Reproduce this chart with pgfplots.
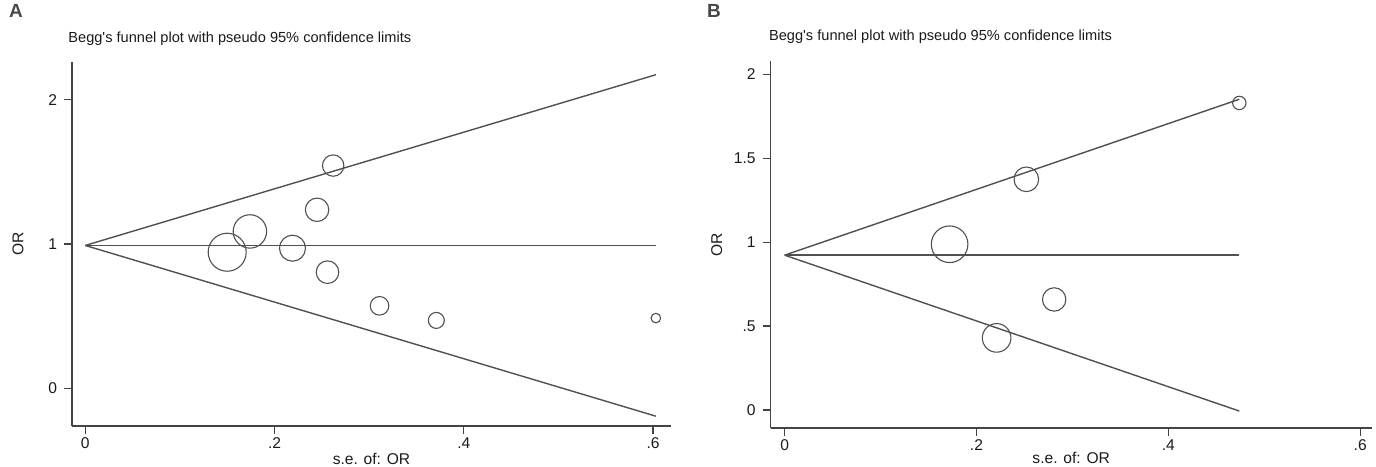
\documentclass[border=0pt]{standalone}
\usepackage{pgfplots}
\pgfplotsset{compat=1.18}
\usepackage{fontspec}
\setmainfont{Liberation Sans}
\definecolor{axgray}{HTML}{444444}
\definecolor{lngray}{HTML}{505050}
\definecolor{txt}{HTML}{1A1A1A}
\begin{document}
\begin{tikzpicture}
\useasboundingbox (0,0) rectangle (688pt,-233pt);
\pgfplotsset{
  funnel/.style={
    scale only axis, clip=false,
    axis x line*=bottom, axis y line*=left,
    axis line style={draw=axgray, line width=0.65pt},
    tick style={draw=axgray, line width=0.65pt},
    tick align=outside, major tick length=4pt,
    xtick={0,0.2,0.4,0.6}, xticklabels={0,.2,.4,.6},
    minor tick num=0,
    ticklabel style={font=\fontsize{7.8}{9}\selectfont, text=txt},
    xticklabel style={yshift=1.5pt},
  },
  circ/.style={scatter, only marks, mark=o,
    scatter/use mapped color={draw=lngray, line width=0.55pt},
    visualization depends on={\thisrow{r} \as \rr},
    scatter/@pre marker code/.append style={/tikz/mark size=\rr pt}},
}
\node[font=\bfseries\fontsize{9.5}{11}\selectfont, text=black!72] at (8pt,-5.5pt) {A};
\node[font=\bfseries\fontsize{9.5}{11}\selectfont, text=black!72] at (357pt,-5.5pt) {B};

% Panel A
\begin{axis}[funnel, at={(36pt,-213pt)}, anchor=south west,
  width=299.5pt, height=182pt,
  xmin=-0.014, xmax=0.619, ymin=-0.26, ymax=2.26,
  ytick={0,1,2}, yticklabels={0,1,2}]
\addplot[lngray, line width=0.7pt] coordinates {(0,0.99) (0.603,2.172)};
\addplot[lngray, line width=0.7pt] coordinates {(0,0.99) (0.603,-0.192)};
\addplot[lngray, line width=0.7pt] coordinates {(0,0.99) (0.603,0.99)};
\addplot[circ] table {
x y r
0.150 0.943 9.5
0.174 1.087 8.35
0.219 0.971 6.5
0.245 1.237 5.85
0.262 1.543 5.35
0.256 0.805 5.65
0.311 0.572 4.65
0.371 0.471 4.0
0.603 0.487 2.4
};
\node[font=\fontsize{7.8}{9}\selectfont, text=txt, rotate=90] at ([xshift=-27pt]rel axis cs:0,0.5) {OR};
\node[font=\fontsize{7.8}{9}\selectfont, text=txt] at ([yshift=-16.5pt]rel axis cs:0.5,0) {s.e. of: OR};
\node[anchor=west, inner sep=0pt, font=\fontsize{7.3}{9}\selectfont, text=txt] at ([xshift=-2pt, yshift=11.5pt]rel axis cs:0,1) {Begg\textquotesingle s funnel plot with pseudo 95\% confidence limits};
\end{axis}

% Panel B
\begin{axis}[funnel, at={(385.35pt,-214pt)}, anchor=south west,
  width=300.5pt, height=183.5pt,
  xmin=-0.0145, xmax=0.612, ymin=-0.107, ymax=2.08,
  ytick={0,0.5,1,1.5,2}, yticklabels={0,.5,1,1.5,2}]
\addplot[lngray, line width=0.7pt] coordinates {(0,0.923) (0.474,1.852)};
\addplot[lngray, line width=0.7pt] coordinates {(0,0.923) (0.474,-0.006)};
\addplot[lngray, line width=0.7pt] coordinates {(0,0.923) (0.474,0.923)};
\addplot[circ] table {
x y r
0.252 1.375 6.15
0.172 0.988 9.15
0.281 0.659 5.85
0.221 0.430 7.15
0.474 1.830 3.35
};
\node[font=\fontsize{7.8}{9}\selectfont, text=txt, rotate=90] at ([xshift=-27pt]rel axis cs:0,0.5) {OR};
\node[font=\fontsize{7.8}{9}\selectfont, text=txt] at ([yshift=-15pt]rel axis cs:0.5,0) {s.e. of: OR};
\node[anchor=west, inner sep=0pt, font=\fontsize{7.3}{9}\selectfont, text=txt] at ([xshift=-1pt, yshift=12pt]rel axis cs:0,1) {Begg\textquotesingle s funnel plot with pseudo 95\% confidence limits};
\end{axis}
\end{tikzpicture}
\end{document}
